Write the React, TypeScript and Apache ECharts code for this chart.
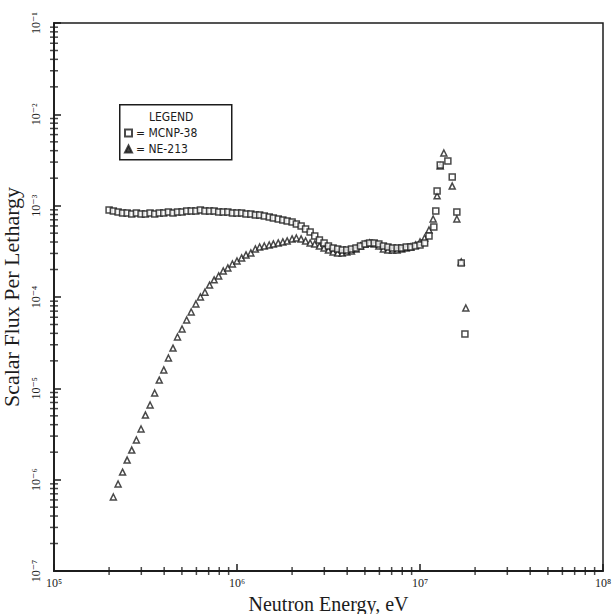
import { useEffect, useRef } from "react";
import * as echarts from "echarts";

// Energy group midpoints (eV), shared by both spectra
const groupEnergy = [
  2.0e5, 2.11e5, 2.24e5, 2.37e5, 2.51e5, 2.66e5, 2.82e5, 2.99e5, 3.16e5, 3.35e5,
  3.55e5, 3.76e5, 3.98e5, 4.22e5, 4.47e5, 4.73e5, 5.01e5, 5.31e5, 5.62e5, 5.96e5,
  6.31e5, 6.68e5, 7.08e5, 7.5e5, 7.94e5, 8.41e5, 8.91e5, 9.44e5, 1.0e6, 1.06e6,
  1.12e6, 1.19e6, 1.26e6, 1.33e6, 1.41e6, 1.5e6, 1.58e6, 1.68e6, 1.78e6, 1.88e6,
  2.0e6, 2.11e6, 2.24e6, 2.37e6, 2.51e6, 2.66e6, 2.82e6, 2.99e6, 3.16e6, 3.35e6,
  3.55e6, 3.76e6, 3.98e6, 4.22e6, 4.47e6, 4.73e6, 5.01e6, 5.31e6, 5.62e6, 5.96e6,
  6.31e6, 6.68e6, 7.08e6, 7.5e6, 7.94e6, 8.41e6, 8.91e6, 9.44e6, 1.0e7, 1.06e7,
  1.12e7, 1.19e7,
];

// MCNP calculation, scalar flux per lethargy on the group grid
const mcnpFlux = [
  8.97e-4, 8.75e-4, 8.53e-4, 8.32e-4, 8.32e-4, 8.11e-4, 8.32e-4, 8.11e-4, 8.11e-4, 8.32e-4,
  8.11e-4, 8.32e-4, 8.32e-4, 8.53e-4, 8.32e-4, 8.53e-4, 8.53e-4, 8.75e-4, 8.75e-4, 8.75e-4,
  8.97e-4, 8.75e-4, 8.75e-4, 8.75e-4, 8.53e-4, 8.53e-4, 8.53e-4, 8.32e-4, 8.32e-4, 8.32e-4,
  8.11e-4, 8.11e-4, 7.91e-4, 7.91e-4, 7.71e-4, 7.52e-4, 7.33e-4, 7.15e-4, 6.97e-4, 6.8e-4,
  6.63e-4, 6.3e-4, 5.99e-4, 5.56e-4, 5.15e-4, 4.66e-4, 4.21e-4, 3.91e-4, 3.62e-4, 3.44e-4,
  3.36e-4, 3.27e-4, 3.27e-4, 3.36e-4, 3.44e-4, 3.62e-4, 3.81e-4, 3.91e-4, 3.91e-4, 3.81e-4,
  3.62e-4, 3.53e-4, 3.44e-4, 3.44e-4, 3.44e-4, 3.53e-4, 3.53e-4, 3.62e-4, 3.71e-4, 3.91e-4,
  4.66e-4, 5.84e-4,
];

// NE-213 measurement on the same grid (no value in the first and last group)
const ne213Flux = [
  null, 6.46e-7, 8.96e-7, 1.21e-6, 1.64e-6, 2.11e-6, 2.72e-6, 3.59e-6, 5.1e-6, 6.57e-6,
  8.89e-6, 1.23e-5, 1.59e-5, 2.15e-5, 2.76e-5, 3.65e-5, 4.46e-5, 5.6e-5, 6.85e-5, 8.38e-5,
  1.0e-4, 1.13e-4, 1.35e-4, 1.54e-4, 1.7e-4, 1.93e-4, 2.08e-4, 2.3e-4, 2.48e-4, 2.68e-4,
  2.89e-4, 3.04e-4, 3.36e-4, 3.53e-4, 3.62e-4, 3.71e-4, 3.81e-4, 3.91e-4, 4.01e-4, 4.11e-4,
  4.32e-4, 4.43e-4, 4.32e-4, 4.11e-4, 3.91e-4, 3.81e-4, 3.62e-4, 3.44e-4, 3.27e-4, 3.11e-4,
  3.04e-4, 3.04e-4, 3.11e-4, 3.19e-4, 3.36e-4, 3.62e-4, 3.81e-4, 3.91e-4, 3.81e-4, 3.62e-4,
  3.36e-4, 3.27e-4, 3.27e-4, 3.27e-4, 3.36e-4, 3.44e-4, 3.53e-4, 3.71e-4, 4.01e-4, 4.43e-4,
  5.42e-4, null,
];

// 14 MeV source peak
const mcnpPeakEnergy = [1.22e7, 1.24e7, 1.29e7, 1.42e7, 1.5e7, 1.59e7, 1.68e7, 1.76e7];
const mcnpPeakFlux = [8.75e-4, 1.45e-3, 2.79e-3, 3.08e-3, 2.06e-3, 8.53e-4, 2.36e-4, 3.93e-5];
const ne213PeakEnergy = [1.18e7, 1.24e7, 1.29e7, 1.35e7, 1.5e7, 1.59e7, 1.68e7, 1.78e7];
const ne213PeakFlux = [7.15e-4, 1.28e-3, 2.72e-3, 3.77e-3, 1.64e-3, 7.15e-4, 2.42e-4, 7.58e-5];

// Axis extents (decades)
const xMin = 1e5;
const xMax = 1e8;
const yMin = 1e-7;
const yMax = 1e-1;
const minorSteps = [2, 3, 4, 5, 6, 7, 8, 9];

const INK = "#1c1c1c";
const SERIF = "'Liberation Serif', 'DejaVu Serif', serif";
const TYPE = "'Liberation Sans Narrow', 'DejaVu Sans Condensed', 'Liberation Sans', sans-serif";

const SUP: Record<string, string> = {
  "-": "\u207B", "0": "\u2070", "1": "\u00B9", "2": "\u00B2", "3": "\u00B3",
  "4": "\u2074", "5": "\u2075", "6": "\u2076", "7": "\u2077", "8": "\u2078", "9": "\u2079",
};
const powerLabel = (v: number) => {
  const e = String(Math.round(Math.log10(v)));
  return "10" + e.split("").map((c) => SUP[c] ?? c).join("");
};

const decadesBetween = (lo: number, hi: number) => {
  const out: number[] = [];
  for (let e = Math.round(Math.log10(lo)); e < Math.round(Math.log10(hi)); e++) out.push(Math.pow(10, e));
  return out;
};

export default function App() {
  const ref = useRef<HTMLDivElement>(null);

  useEffect(() => {
    if (!ref.current) return;
    const chart = echarts.init(ref.current, undefined, { renderer: "svg" });

    const pair = (xs: number[], ys: (number | null)[]) =>
      xs.map((x, i) => [x, ys[i]]).filter((p) => p[1] != null);

    // logarithmic minor ticks (2..9 within each decade), placed on the axes
    const xMinor = decadesBetween(xMin, xMax).flatMap((d) => minorSteps.map((m) => [d * m, yMin]));
    const yMinor = decadesBetween(yMin, yMax).flatMap((d) => minorSteps.map((m) => [xMin, d * m]));

    const markerStyle = { color: "#ffffff", borderColor: INK, borderWidth: 1.5 };

    chart.setOption({
      animation: false,
      backgroundColor: "#ffffff",
      grid: {
        left: 54,
        right: 10,
        top: 23,
        bottom: 43,
        outerBoundsMode: "none",
        containLabel: false,
        show: true,
        borderColor: INK,
        borderWidth: 1.5,
        backgroundColor: "transparent",
      },
      xAxis: {
        type: "log",
        logBase: 10,
        min: xMin,
        max: xMax,
        splitNumber: 3,
        name: "Neutron Energy, eV",
        nameLocation: "middle",
        nameGap: 16,
        nameTextStyle: { fontFamily: SERIF, fontSize: 20, color: INK },
        axisLine: { lineStyle: { color: INK, width: 1.8 } },
        axisTick: { inside: true, length: 7, lineStyle: { color: INK, width: 1.5 } },
        axisLabel: {
          formatter: powerLabel,
          fontFamily: SERIF,
          fontSize: 12,
          color: INK,
          margin: 6,
          showMinLabel: true,
          showMaxLabel: true,
        },
        splitLine: { show: false },
      },
      yAxis: {
        type: "log",
        logBase: 10,
        min: yMin,
        max: yMax,
        splitNumber: 6,
        name: "Scalar Flux Per Lethargy",
        nameLocation: "middle",
        nameGap: 22,
        nameTextStyle: { fontFamily: SERIF, fontSize: 22, color: INK },
        axisLine: { lineStyle: { color: INK, width: 1.8 } },
        axisTick: { inside: true, length: 7, lineStyle: { color: INK, width: 1.5 } },
        axisLabel: {
          formatter: powerLabel,
          fontFamily: SERIF,
          fontSize: 12,
          color: INK,
          rotate: 90,
          margin: 12,
          showMinLabel: true,
          showMaxLabel: true,
        },
        splitLine: { show: false },
      },
      legend: {
        data: [
          { name: "MCNP-38" },
          { name: "NE-213", itemStyle: { color: INK, borderColor: INK } },
        ],
        orient: "vertical",
        left: 124,
        top: 127,
        itemWidth: 7,
        itemHeight: 7,
        itemGap: 4,
        padding: 0,
        formatter: (name: string) => "= " + name,
        textStyle: { fontFamily: TYPE, fontSize: 12, color: INK, padding: [0, 0, 0, -1] },
      },
      graphic: [
        {
          type: "rect",
          left: 119,
          top: 104,
          shape: { width: 112, height: 55 },
          style: { fill: "transparent", stroke: INK, lineWidth: 1.5 },
          silent: true,
        },
        {
          type: "text",
          left: 149,
          top: 111,
          style: { text: "LEGEND", font: `12px ${TYPE}`, fill: INK },
          silent: true,
        },
      ],
      series: [
        {
          name: "NE-213",
          type: "scatter",
          symbol: "triangle",
          symbolSize: 6,
          itemStyle: markerStyle,
          data: pair(groupEnergy, ne213Flux).concat(pair(ne213PeakEnergy, ne213PeakFlux)),
          z: 3,
        },
        {
          name: "MCNP-38",
          type: "scatter",
          symbol: "rect",
          symbolSize: 6,
          itemStyle: markerStyle,
          data: pair(groupEnergy, mcnpFlux).concat(pair(mcnpPeakEnergy, mcnpPeakFlux)),
          z: 4,
        },
        {
          name: "minor-x",
          type: "scatter",
          silent: true,
          clip: false,
          symbol: "rect",
          symbolSize: [1.5, 8],
          itemStyle: { color: INK },
          data: xMinor,
          z: 5,
        },
        {
          name: "minor-y",
          type: "scatter",
          silent: true,
          clip: false,
          symbol: "rect",
          symbolSize: [8, 1.5],
          itemStyle: { color: INK },
          data: yMinor,
          z: 5,
        },
      ],
    });

    return () => chart.dispose();
  }, []);

  return (
    <div
      ref={ref}
      style={{ position: "fixed", left: 0, top: 0, width: 613, height: 614 }}
    />
  );
}
